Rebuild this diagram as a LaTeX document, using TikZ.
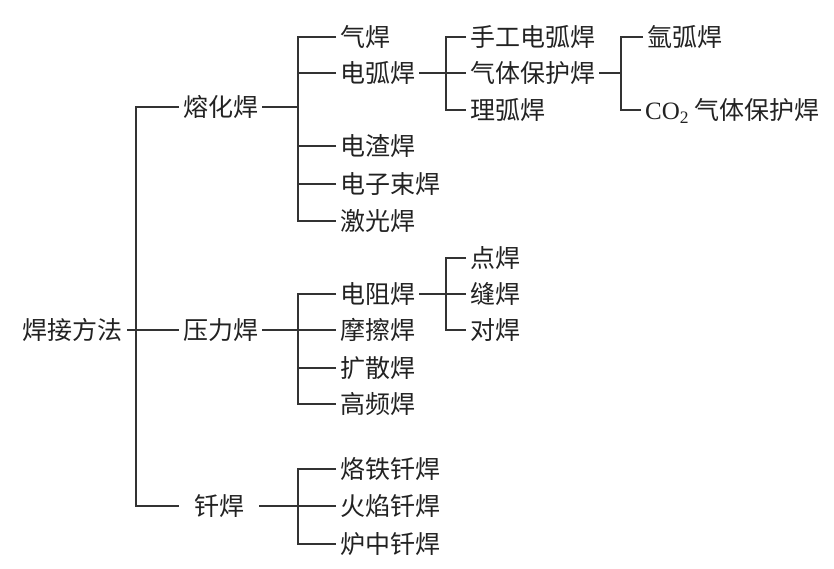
\documentclass[tikz,border=0pt]{standalone}
\usepackage{fontspec}
\setmainfont{Liberation Serif}
\newfontfamily\cjk{Noto Sans CJK SC}
\usepackage{tikz}
\usetikzlibrary{positioning, calc}

\begin{document}
\begin{tikzpicture}[
    x=1pt, y=-1pt,
    item/.style = {anchor=west, inner xsep=4pt, inner ysep=0pt, text height=22pt, text depth=3pt, text=ink, font=\cjk\fontsize{25}{30}\selectfont},
    group/.style = {item, minimum width=80pt, align=center},
    line/.style = {draw, line width=1.5pt, color=wire}
]
    % Colors definition
    \definecolor{ink}{RGB}{34, 34, 34}
    \definecolor{wire}{RGB}{51, 51, 51}

    \useasboundingbox (0,0) rectangle (834,568);

    % Root
    \node (root) [item, anchor=east] at (127,330) {焊接方法};

    % Level 1
    \node (fusion) [group] at (179,107) {熔化焊};
    \node (pressure) [group] at (179,330) {压力焊};
    \node (brazing) [group] at (179,506) {钎焊};

    % Fusion welding
    \node (gas) [item] at (336,37) {气焊};
    \node (arc) [item] at (336,73) {电弧焊};
    \node (slag) [item] at (336,146) {电渣焊};
    \node (ebeam) [item] at (336,184) {电子束焊};
    \node (laser) [item] at (336,221) {激光焊};

    \node (manual) [item] at (466,37) {手工电弧焊};
    \node (shield) [item] at (466,73) {气体保护焊};
    \node (sub) [item] at (466,110) {理弧焊};

    \node (argon) [item] at (643,37) {氩弧焊};
    \node (cotwo) [item] at (641,110) {{\rmfamily CO\textsubscript{2}} 气体保护焊};

    % Pressure welding
    \node (resist) [item] at (336,294) {电阻焊};
    \node (friction) [item] at (336,330) {摩擦焊};
    \node (diffuse) [item] at (336,368) {扩散焊};
    \node (hf) [item] at (336,404) {高频焊};

    \node (spot) [item] at (466,258) {点焊};
    \node (seam) [item] at (466,294) {缝焊};
    \node (butt) [item] at (466,330) {对焊};

    % Brazing
    \node (iron) [item] at (336,469) {烙铁钎焊};
    \node (flame) [item] at (336,506) {火焰钎焊};
    \node (furnace) [item] at (336,544) {炉中钎焊};

    % Junctions
    \coordinate (hub) at (136,330);
    \coordinate (hubA) at (298,107);
    \coordinate (hubB) at (446,73);
    \coordinate (hubC) at (621,73);
    \coordinate (hubD) at (298,330);
    \coordinate (hubE) at (446,294);
    \coordinate (hubF) at (298,506);

    % Connections
    \path [line] (root.east) -- (pressure.west);
    \path [line] (fusion.west) -| (hub) |- (brazing.west);

    \path [line] (fusion.east) -- (hubA);
    \path [line] (gas.west) -| (hubA) |- (laser.west);
    \foreach \n in {arc, slag, ebeam}
        \path [line] (\n.west) -- (\n.west -| hubA);

    \path [line] (arc.east) -- (shield.west);
    \path [line] (manual.west) -| (hubB) |- (sub.west);

    \path [line] (shield.east) -- (hubC);
    \path [line] (argon.west) -| (hubC) |- (cotwo.west);

    \path [line] (pressure.east) -- (friction.west);
    \path [line] (resist.west) -| (hubD) |- (hf.west);
    \path [line] (diffuse.west) -- (diffuse.west -| hubD);

    \path [line] (resist.east) -- (seam.west);
    \path [line] (spot.west) -| (hubE) |- (butt.west);

    \path [line] (brazing.east) -- (flame.west);
    \path [line] (iron.west) -| (hubF) |- (furnace.west);

\end{tikzpicture}
\end{document}
